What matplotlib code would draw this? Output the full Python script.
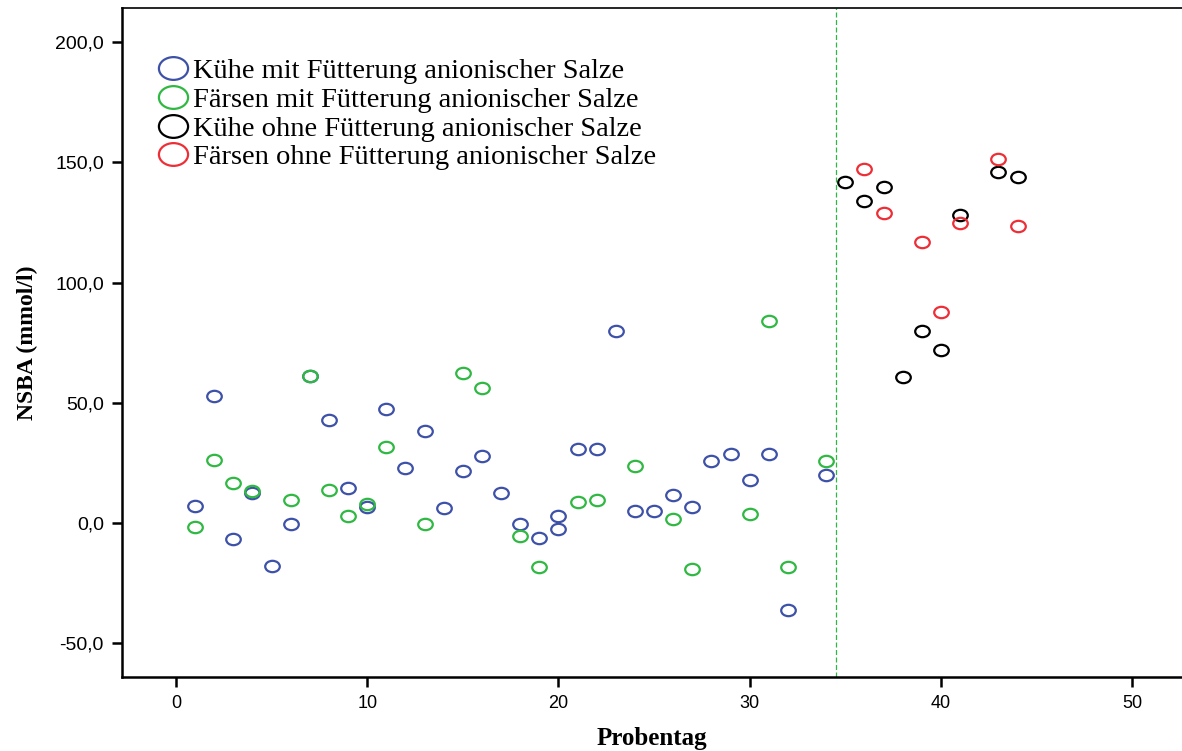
import matplotlib
matplotlib.use("Agg")
import matplotlib.pyplot as plt
from matplotlib.path import Path
from matplotlib.transforms import Affine2D
import numpy as np

# Kühe mit Fütterung anionischer Salze
cows_anion_day = [1, 2, 3, 4, 5, 6, 7, 8, 9, 10, 11, 12, 13, 14, 15, 16, 17, 18, 19, 20, 20,
                  21, 22, 23, 24, 25, 26, 27, 28, 29, 30, 31, 32, 34]
cows_anion_val = [7.2, 52.8, -6.8, 12.6, -17.8, -0.5, 61.3, 42.8, 14.7, 6.8, 47.3, 22.7, 38.3,
                  6.2, 21.8, 27.9, 12.3, -0.3, -6.2, 2.8, -2.4, 30.8, 30.8, 79.9, 4.9, 4.9,
                  11.8, 6.8, 25.8, 28.8, 17.7, 28.8, -36.3, 19.8]

# Färsen mit Fütterung anionischer Salze
heifers_anion_day = [1, 2, 3, 4, 6, 7, 8, 9, 10, 11, 13, 15, 16, 18, 19, 21, 22, 24, 26, 27,
                     30, 31, 32, 34]
heifers_anion_val = [-1.8, 26.2, 16.8, 13.3, 9.7, 61.0, 13.7, 2.8, 7.8, 31.7, -0.3, 62.4, 56.3,
                     -5.3, -18.3, 8.7, 9.7, 23.8, 1.7, -19.3, 3.7, 83.9, -18.3, 25.8]

# Kühe ohne Fütterung anionischer Salze
cows_plain_day = [35, 36, 37, 38, 39, 40, 41, 43, 44]
cows_plain_val = [142.0, 134.1, 139.9, 60.9, 79.9, 71.8, 128.1, 146.0, 144.1]

# Färsen ohne Fütterung anionischer Salze
heifers_plain_day = [36, 37, 39, 40, 41, 43, 44]
heifers_plain_val = [147.1, 129.1, 116.9, 87.9, 124.9, 151.5, 123.4]

series_labels = ["Kühe mit Fütterung anionischer Salze",
                 "Färsen mit Fütterung anionischer Salze",
                 "Kühe ohne Fütterung anionischer Salze",
                 "Färsen ohne Fütterung anionischer Salze"]
series_colors = ["#3d51a8", "#2fb842", "#000000", "#ee2e36"]

y_ticks = [-50, 0, 50, 100, 150, 200]
x_ticks = [0, 10, 20, 30, 40, 50]
phase_split = 34.5

# open ellipse marker, wider than tall
circle = Path.unit_circle()
ellipse = circle.transformed(Affine2D().scale(1.0, 0.78))

fig = plt.figure(figsize=(11.82, 7.51), dpi=100)
ax = fig.add_axes([0.1032, 0.0985, 0.8968, 0.8908])

series = [(cows_anion_day, cows_anion_val), (heifers_anion_day, heifers_anion_val),
          (cows_plain_day, cows_plain_val), (heifers_plain_day, heifers_plain_val)]
for (d, v), lab, col in zip(series, series_labels, series_colors):
    ax.plot(d, v, linestyle="none", marker=ellipse, markersize=10.5,
            markerfacecolor="none", markeredgecolor=col, markeredgewidth=1.6, label=lab)

ax.axvline(phase_split, color="#2fb842", linewidth=0.9, linestyle=(0, (4, 2)))

ax.set_xlim(-2.82, 52.6)
ax.set_ylim(-64.1, 214.2)
ax.set_xticks(x_ticks)
ax.set_yticks(y_ticks)
ax.set_yticklabels([f"{t:.1f}".replace(".", ",") for t in y_ticks],
                   family=["Liberation Sans"], fontsize=14)
ax.set_xticklabels([str(t) for t in x_ticks],
                   family=["Liberation Sans Narrow", "Liberation Sans"], fontsize=13)

ax.spines["right"].set_visible(False)
ax.spines["left"].set_linewidth(1.8)
ax.spines["bottom"].set_linewidth(1.8)
ax.spines["top"].set_linewidth(1.2)
ax.tick_params(axis="both", direction="out", length=7, width=1.8, pad=6)

ax.set_xlabel("Probentag", family=["Liberation Serif"], fontweight="bold", fontsize=18,
              labelpad=11)
ax.set_ylabel("NSBA (mmol/l)", family=["Liberation Serif"], fontweight="bold", fontsize=17,
              labelpad=12)

leg = ax.legend(loc="upper left", bbox_to_anchor=(0.0157, 0.9550), frameon=False,
                prop={"family": "Liberation Serif", "size": 20.5}, markerscale=2.0,
                handlelength=0.98, handletextpad=0.24, labelspacing=0.1, borderpad=0.2,
                borderaxespad=0.5)

fig.savefig("out.png", dpi=100)
